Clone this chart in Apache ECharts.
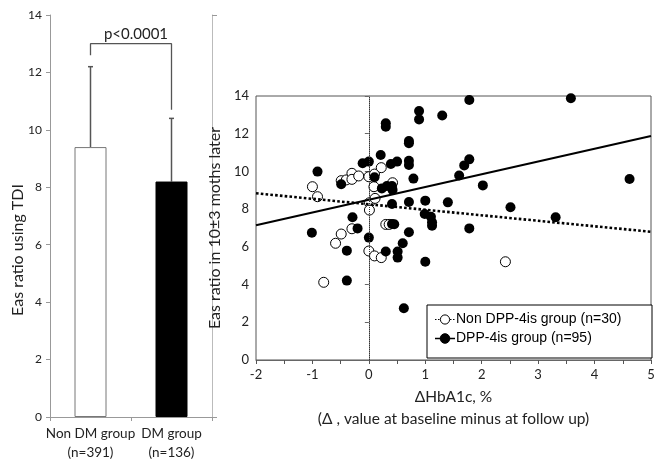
<!DOCTYPE html>
<html><head><meta charset="utf-8">
<script src="https://cdn.jsdelivr.net/npm/echarts@6/dist/echarts.min.js"></script>
<style>html,body{margin:0;padding:0;background:#fff}#c{width:654px;height:459px}</style>
</head><body><div id="c"></div>
<script>
// ---- Left chart data ----
const barCategories = ['Non DM group\n(n=391)', 'DM group\n(n=136)'];
const barMeans = [9.4, 8.2];
const barSD = [2.8, 2.2];
const bracketPoints = [[0, 12.6], [0, 13.0], [1, 13.0], [1, 10.7]];
const barTicks = [0, 2, 4, 6, 8, 10, 12, 14];

// ---- Right chart data ----
const nonDppPoints = [
  [-1.00, 9.19], [-0.91, 8.66], [-0.80, 4.12], [-0.59, 6.19], [-0.49, 6.68], [-0.30, 6.96],
  [-0.49, 9.51], [-0.40, 9.55], [-0.30, 9.90], [-0.30, 9.58], [-0.18, 9.76], [0.00, 9.72],
  [0.10, 9.86], [0.22, 10.20], [0.09, 9.19], [0.01, 8.34], [0.01, 7.95], [0.11, 8.57],
  [0.42, 9.40], [0.30, 7.19], [0.36, 7.19], [0.00, 5.78], [0.10, 5.52], [0.22, 5.43], [2.42, 5.21]
];
const dppPoints = [
  [1.78, 13.79], [3.58, 13.88], [0.89, 13.20], [0.89, 12.76], [1.30, 12.97], [0.30, 12.55],
  [0.30, 12.37], [0.71, 11.61], [0.71, 11.49], [0.21, 10.87], [-0.11, 10.43], [0.00, 10.52],
  [0.39, 10.39], [0.50, 10.52], [0.71, 10.57], [0.71, 10.34], [-0.91, 9.99], [0.10, 9.69],
  [0.79, 9.62], [-0.49, 9.32], [0.23, 9.10], [0.32, 9.23], [0.41, 9.23], [0.42, 9.02],
  [1.69, 10.32], [1.78, 10.64], [1.60, 9.78], [2.02, 9.26], [4.62, 9.60], [0.41, 8.27],
  [0.71, 8.38], [1.00, 8.45], [1.40, 8.36], [2.51, 8.10], [-0.29, 7.57], [0.99, 7.74],
  [1.10, 7.60], [1.12, 7.12], [1.12, 7.30], [3.31, 7.57], [-1.01, 6.75], [-0.20, 6.98],
  [0.41, 7.21], [0.45, 7.20], [0.71, 6.77], [1.78, 6.98], [0.00, 6.49], [-0.39, 5.80],
  [0.30, 5.75], [0.51, 5.75], [0.60, 6.19], [0.51, 5.43], [1.00, 5.21], [-0.39, 4.21], [0.62, 2.74]
];
const dppFit = [[-2, 7.15], [5, 11.88]];
const nonDppFit = [[-2, 8.84], [5, 6.80]];
const xTicksRight = [-2, -1, 0, 1, 2, 3, 4, 5];
const legendNames = ['Non DPP-4is group (n=30)', 'DPP-4is group (n=95)'];

const FONT = 'Lato, "Open Sans", sans-serif';
const chart = echarts.init(document.getElementById('c'));

const option = {
  animation: false,
  backgroundColor: '#fff',
  textStyle: { fontFamily: FONT },
  grid: [
    { left: 50, right: 442, top: 15, bottom: 42, outerBoundsMode: 'none', containLabel: false },
    { left: 256, right: 3, top: 96, bottom: 99, show: true, borderColor: '#555', borderWidth: 1, outerBoundsMode: 'none', containLabel: false }
  ],
  xAxis: [
    {
      type: 'category', gridIndex: 0, data: barCategories,
      axisLine: { lineStyle: { color: '#999' } },
      axisTick: { show: true, length: 4, lineStyle: { color: '#999' } },
      axisLabel: { interval: 0, align: 'center', color: '#222', fontSize: 13.5, lineHeight: 19, margin: 7, fontFamily: FONT }
    },
    {
      type: 'value', gridIndex: 1, min: xTicksRight[0], max: xTicksRight[xTicksRight.length - 1], interval: 1,
      axisLine: { onZero: false, lineStyle: { color: '#666' } },
      axisTick: { show: true, length: 4, lineStyle: { color: '#555' } },
      minorTick: { show: true, splitNumber: 2, length: 4, lineStyle: { color: '#555' } },
      splitLine: { show: false },
      axisLabel: { color: '#222', fontSize: 13, margin: 8, fontFamily: FONT },
      name: 'ΔHbA1c, %\n(Δ , value at baseline minus at follow up)',
      nameLocation: 'middle', nameGap: 22,
      nameTextStyle: { color: '#222', fontSize: 15.5, lineHeight: 22, fontFamily: FONT, verticalAlign: 'top' }
    }
  ],
  yAxis: [
    {
      type: 'value', gridIndex: 0, min: barTicks[0], max: barTicks[barTicks.length - 1], interval: 2,
      axisLine: { show: true, lineStyle: { color: '#999' } },
      axisTick: { show: true, length: 4, lineStyle: { color: '#999' } },
      splitLine: { show: false },
      axisLabel: { color: '#222', fontSize: 12, margin: 8, fontFamily: FONT }
    },
    {
      type: 'value', gridIndex: 0, position: 'right', min: 0, max: 14, interval: 14,
      axisLine: { show: true, lineStyle: { color: '#bbb' } },
      axisTick: { show: true, length: 5, lineStyle: { color: '#999' } },
      splitLine: { show: false }, axisLabel: { show: false }
    },
    {
      type: 'value', gridIndex: 1, min: 0, max: 14, interval: 2,
      axisLine: { show: true, lineStyle: { color: '#888' } },
      axisTick: { show: true, length: 4, lineStyle: { color: '#666' } },
      splitLine: { show: false },
      axisLabel: { color: '#222', fontSize: 13, margin: 7, fontFamily: FONT },
      name: 'Eas ratio in 10±3 moths later', nameLocation: 'middle', nameGap: 20,
      nameTextStyle: { color: '#222', fontSize: 16, fontFamily: FONT }
    }
  ],
  series: [
    {
      type: 'bar', xAxisIndex: 0, yAxisIndex: 0, barWidth: 32,
      data: barMeans.map((v, i) => ({
        value: v,
        itemStyle: i === 0 ? { color: '#fff', borderColor: '#777', borderWidth: 1 } : { color: '#000', borderColor: '#000', borderWidth: 1 }
      }))
    },
    {
      type: 'custom', xAxisIndex: 0, yAxisIndex: 0, z: 1,
      data: barMeans.map((m, i) => [i, m, m + barSD[i]]),
      renderItem: function (params, api) {
        const p0 = api.coord([api.value(0), api.value(1)]);
        const p1 = api.coord([api.value(0), api.value(2)]);
        return {
          type: 'group', children: [
            { type: 'line', shape: { x1: p0[0], y1: p0[1], x2: p1[0], y2: p1[1] }, style: { stroke: '#555', lineWidth: 1.5 } },
            { type: 'line', shape: { x1: p1[0] - 2.5, y1: p1[1], x2: p1[0] + 2.5, y2: p1[1] }, style: { stroke: '#555', lineWidth: 1.5 } }
          ]
        };
      }
    },
    {
      type: 'line', xAxisIndex: 0, yAxisIndex: 0, data: bracketPoints, symbol: 'none',
      lineStyle: { color: '#555', width: 1.3 }
    },
    {
      type: 'scatter', name: legendNames[0], xAxisIndex: 1, yAxisIndex: 2, data: nonDppPoints,
      symbolSize: 10, z: 2,
      itemStyle: { color: '#fff', borderColor: '#000', borderWidth: 1, opacity: 1 },
      markLine: {
        silent: true, symbol: 'none', label: { show: false },
        lineStyle: { type: 'dotted', color: '#333', width: 1 },
        data: [{ xAxis: 0 }]
      }
    },
    {
      type: 'line', xAxisIndex: 1, yAxisIndex: 2, data: nonDppFit, symbol: 'none', z: 3,
      lineStyle: { color: '#000', width: 2.6, type: [2.6, 2.2] }
    },
    {
      type: 'line', xAxisIndex: 1, yAxisIndex: 2, data: dppFit, symbol: 'none', z: 3,
      lineStyle: { color: '#000', width: 2 }
    },
    {
      type: 'scatter', name: legendNames[1], xAxisIndex: 1, yAxisIndex: 2, data: dppPoints,
      symbolSize: 10, z: 4,
      itemStyle: { color: '#000', opacity: 1 }
    }
  ],
  graphic: [
    { type: 'text', x: 18, y: 250, rotation: Math.PI / 2,
      style: { text: 'Eas ratio using TDI', font: '16px ' + FONT, fill: '#222', align: 'center', verticalAlign: 'middle' } },
    { type: 'text', x: 136, y: 34,
      style: { text: 'p<0.0001', font: '15px ' + FONT, fill: '#222', align: 'center', verticalAlign: 'middle' } },
    { type: 'group', z: 100, children: [
      { type: 'rect', shape: { x: 427, y: 305, width: 225, height: 53 }, style: { fill: '#fff', stroke: '#000', lineWidth: 1 } },
      { type: 'line', shape: { x1: 435, y1: 319.5, x2: 455, y2: 319.5 }, style: { stroke: '#000', lineWidth: 1.2, lineDash: [1.5, 1.5] } },
      { type: 'circle', shape: { cx: 445, cy: 319.5, r: 4.6 }, style: { fill: '#fff', stroke: '#000', lineWidth: 1 } },
      { type: 'text', x: 456, y: 319.5, style: { text: legendNames[0], font: '14px "Liberation Sans", Arial, sans-serif', fill: '#000', verticalAlign: 'middle' } },
      { type: 'line', shape: { x1: 435, y1: 338.5, x2: 455, y2: 338.5 }, style: { stroke: '#000', lineWidth: 1.5 } },
      { type: 'circle', shape: { cx: 445, cy: 338.5, r: 4.8 }, style: { fill: '#000', stroke: '#000', lineWidth: 1 } },
      { type: 'text', x: 456, y: 338.5, style: { text: legendNames[1], font: '14px "Liberation Sans", Arial, sans-serif', fill: '#000', verticalAlign: 'middle' } }
    ] }
  ]
};
chart.setOption(option);
</script></body></html>
